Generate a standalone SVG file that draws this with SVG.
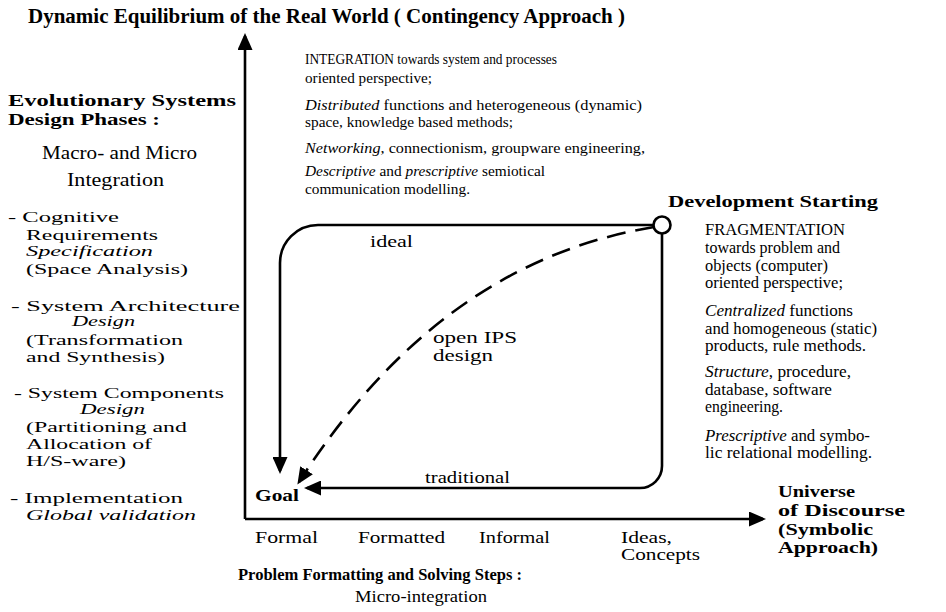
<svg xmlns="http://www.w3.org/2000/svg" width="946" height="612" viewBox="0 0 946 612">
  <style>
    text { font-family: "Liberation Serif", "Times New Roman", serif; fill: #000; }
    .b { font-weight: bold; }
    .i { font-style: italic; }
    .s15 { font-size: 15px; }
    .s155 { font-size: 15.5px; }
    .s16 { font-size: 16px; }
    .s17 { font-size: 17px; }
    .s19 { font-size: 19px; }
    .line { fill: none; stroke: #000; stroke-width: 2.6; }
    .dash { fill: none; stroke: #000; stroke-width: 2.6; stroke-dasharray: 19 10; }
  </style>
  <defs>
    <marker id="head" markerUnits="userSpaceOnUse" markerWidth="17" markerHeight="15" refX="14" refY="7.5" orient="auto">
      <path d="M0,0 L17,7.5 L0,15 Z" fill="#000"/>
    </marker>
  </defs>
  <rect width="946" height="612" fill="#fff"/>

  <!-- heading -->
  <g id="title">
    <text class="b" x="28" y="23" font-size="20" textLength="597" lengthAdjust="spacingAndGlyphs">Dynamic Equilibrium of the Real World ( Contingency Approach )</text>
  </g>

  <!-- left column: design phases -->
  <g id="design-phases">
    <text class="b s17" x="8" y="106" textLength="228" lengthAdjust="spacingAndGlyphs">Evolutionary Systems</text>
    <text class="b s17" x="8" y="125" textLength="152" lengthAdjust="spacingAndGlyphs">Design Phases :</text>
    <text class="s19" x="42" y="159" textLength="155" lengthAdjust="spacingAndGlyphs">Macro- and Micro</text>
    <text class="s19" x="67" y="186" textLength="97" lengthAdjust="spacingAndGlyphs">Integration</text>
    <text class="s15" x="8" y="222" textLength="111" lengthAdjust="spacingAndGlyphs">- Cognitive</text>
    <text class="s15" x="26" y="240" textLength="132" lengthAdjust="spacingAndGlyphs">Requirements</text>
    <text class="s15 i" x="26" y="256" textLength="127" lengthAdjust="spacingAndGlyphs">Specification</text>
    <text class="s15" x="26" y="274" textLength="162" lengthAdjust="spacingAndGlyphs">(Space Analysis)</text>
    <text class="s15" x="11" y="311" textLength="229" lengthAdjust="spacingAndGlyphs">- System Architecture</text>
    <text class="s15 i" x="72" y="326" textLength="63" lengthAdjust="spacingAndGlyphs">Design</text>
    <text class="s15" x="26" y="345" textLength="157" lengthAdjust="spacingAndGlyphs">(Transformation</text>
    <text class="s15" x="26" y="362" textLength="139" lengthAdjust="spacingAndGlyphs">and Synthesis)</text>
    <text class="s15" x="14" y="398" textLength="210" lengthAdjust="spacingAndGlyphs">- System Components</text>
    <text class="s15 i" x="80" y="414" textLength="65" lengthAdjust="spacingAndGlyphs">Design</text>
    <text class="s15" x="26" y="432" textLength="161" lengthAdjust="spacingAndGlyphs">(Partitioning and</text>
    <text class="s15" x="26" y="449" textLength="126" lengthAdjust="spacingAndGlyphs">Allocation of</text>
    <text class="s15" x="26" y="466" textLength="100" lengthAdjust="spacingAndGlyphs">H/S-ware)</text>
    <text class="s15" x="10" y="503" textLength="173" lengthAdjust="spacingAndGlyphs">- Implementation</text>
    <text class="s15 i" x="26" y="520" textLength="170" lengthAdjust="spacingAndGlyphs">Global validation</text>
  </g>

  <!-- upper block: integration -->
  <g id="integration">
    <text class="s155" x="305" y="64" textLength="252" lengthAdjust="spacingAndGlyphs">INTEGRATION towards system and processes</text>
    <text class="s155" x="305" y="83" textLength="127" lengthAdjust="spacingAndGlyphs">oriented perspective;</text>
    <text class="s155" x="305" y="110" textLength="337" lengthAdjust="spacingAndGlyphs"><tspan class="i">Distributed</tspan> functions and heterogeneous (dynamic)</text>
    <text class="s155" x="305" y="127" textLength="208" lengthAdjust="spacingAndGlyphs">space, knowledge based methods;</text>
    <text class="s155" x="305" y="153" textLength="340" lengthAdjust="spacingAndGlyphs"><tspan class="i">Networking</tspan>, connectionism, groupware engineering,</text>
    <text class="s155" x="305" y="176" textLength="240" lengthAdjust="spacingAndGlyphs"><tspan class="i">Descriptive</tspan> and <tspan class="i">prescriptive</tspan> semiotical</text>
    <text class="s155" x="305" y="194" textLength="165" lengthAdjust="spacingAndGlyphs">communication modelling.</text>
  </g>

  <!-- right block: fragmentation -->
  <g id="fragmentation">
    <text class="s16" x="705" y="235" textLength="140" lengthAdjust="spacingAndGlyphs">FRAGMENTATION</text>
    <text class="s16" x="705" y="253" textLength="135" lengthAdjust="spacingAndGlyphs">towards problem and</text>
    <text class="s16" x="705" y="271" textLength="123" lengthAdjust="spacingAndGlyphs">objects (computer)</text>
    <text class="s16" x="705" y="288" textLength="138" lengthAdjust="spacingAndGlyphs">oriented perspective;</text>
    <text class="s16" x="705" y="316" textLength="148" lengthAdjust="spacingAndGlyphs"><tspan class="i">Centralized</tspan> functions</text>
    <text class="s16" x="705" y="334" textLength="172" lengthAdjust="spacingAndGlyphs">and homogeneous (static)</text>
    <text class="s16" x="705" y="351" textLength="161" lengthAdjust="spacingAndGlyphs">products, rule methods.</text>
    <text class="s16" x="705" y="377" textLength="146" lengthAdjust="spacingAndGlyphs"><tspan class="i">Structure</tspan>, procedure,</text>
    <text class="s16" x="705" y="395" textLength="127" lengthAdjust="spacingAndGlyphs">database, software</text>
    <text class="s16" x="705" y="412" textLength="78" lengthAdjust="spacingAndGlyphs">engineering.</text>
    <text class="s16" x="705" y="441" textLength="165" lengthAdjust="spacingAndGlyphs"><tspan class="i">Prescriptive</tspan> and symbo-</text>
    <text class="s16" x="705" y="458" textLength="167" lengthAdjust="spacingAndGlyphs">lic relational modelling.</text>
  </g>

  <!-- start node -->
  <g id="development-starting">
    <circle cx="662" cy="225" r="8.5" fill="#fff" stroke="#000" stroke-width="2.6"/>
    <text class="b s17" x="668" y="207" textLength="210" lengthAdjust="spacingAndGlyphs">Development Starting</text>
  </g>

  <!-- goal node -->
  <g id="goal">
    <text class="b s17" x="255" y="501" textLength="44" lengthAdjust="spacingAndGlyphs">Goal</text>
  </g>

  <!-- axes and development paths -->
  <g id="connectors">
    <path class="line" d="M245,519 V36" marker-end="url(#head)"/>
    <path class="line" d="M245,519 H763" marker-end="url(#head)"/>
    <!-- ideal path -->
    <path class="line" d="M653.5,225 H318 A38,38 0 0 0 280,263 V471" marker-end="url(#head)"/>
    <!-- traditional path -->
    <path class="line" d="M662,233.5 V466 A22,22 0 0 1 640,488 H307" marker-end="url(#head)"/>
    <!-- open IPS design path -->
    <path class="dash" d="M654,227 Q440,262 299,482" marker-end="url(#head)"/>
  </g>

  <!-- path labels -->
  <g id="path-labels">
    <text class="s16" x="370" y="247" textLength="43" lengthAdjust="spacingAndGlyphs">ideal</text>
    <text class="s16" x="433" y="343" textLength="84" lengthAdjust="spacingAndGlyphs">open IPS</text>
    <text class="s16" x="433" y="361" textLength="60" lengthAdjust="spacingAndGlyphs">design</text>
    <text class="s16" x="425" y="483" textLength="85" lengthAdjust="spacingAndGlyphs">traditional</text>
  </g>

  <!-- horizontal axis labels -->
  <g id="discourse-labels">
    <text class="s16" x="255" y="543" textLength="63" lengthAdjust="spacingAndGlyphs">Formal</text>
    <text class="s16" x="358" y="543" textLength="87" lengthAdjust="spacingAndGlyphs">Formatted</text>
    <text class="s16" x="479" y="543" textLength="71" lengthAdjust="spacingAndGlyphs">Informal</text>
    <text class="s16" x="621" y="543" textLength="51" lengthAdjust="spacingAndGlyphs">Ideas,</text>
    <text class="s16" x="621" y="560" textLength="79" lengthAdjust="spacingAndGlyphs">Concepts</text>
    <text class="b s17" x="778" y="497" textLength="77" lengthAdjust="spacingAndGlyphs">Universe</text>
    <text class="b s17" x="778" y="516" textLength="127" lengthAdjust="spacingAndGlyphs">of Discourse</text>
    <text class="b s17" x="778" y="535" textLength="95" lengthAdjust="spacingAndGlyphs">(Symbolic</text>
    <text class="b s17" x="778" y="553" textLength="100" lengthAdjust="spacingAndGlyphs">Approach)</text>
    <text class="b s17" x="238" y="580" textLength="284" lengthAdjust="spacingAndGlyphs">Problem Formatting and Solving Steps :</text>
    <text class="s16" x="355" y="602" textLength="132" lengthAdjust="spacingAndGlyphs">Micro-integration</text>
  </g>
</svg>
